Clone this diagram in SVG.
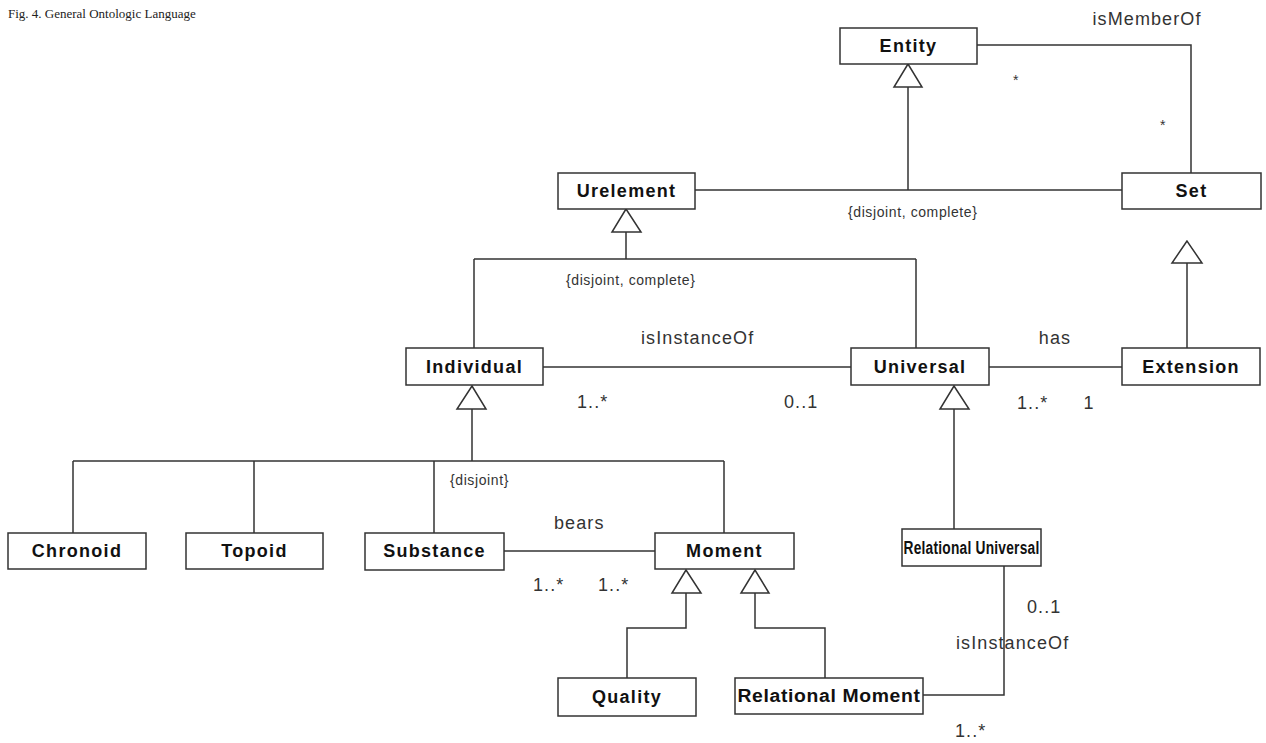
<svg xmlns="http://www.w3.org/2000/svg" width="1266" height="743" viewBox="0 0 1266 743">
<style>
.box{fill:#fff;stroke:#333;stroke-width:1.5}
.nl{font-family:"Liberation Sans",Arial,sans-serif;font-weight:bold;font-size:18px;letter-spacing:1.3px;fill:#111;text-anchor:middle}
.ln{fill:none;stroke:#333;stroke-width:1.5}
.tri{fill:#fff;stroke:#333;stroke-width:1.5;stroke-linejoin:miter}
.lbl{font-family:"Liberation Sans",Arial,sans-serif;font-size:18px;letter-spacing:1.1px;fill:#333}
.sm{font-family:"Liberation Sans",Arial,sans-serif;font-size:14px;letter-spacing:0.6px;fill:#333}
.cap{font-family:"Liberation Serif","Times New Roman",serif;font-size:13px;fill:#222}
</style>
<rect width="1266" height="743" fill="#fff"/>
<text class="cap" x="8" y="18">Fig. 4. General Ontologic Language</text>
<g id="connectors">
<path class="ln" d="M908,87V190M695,190H1122"/>
<path class="ln" d="M977,45H1191V173"/>
<path class="ln" d="M626,232V259M474,259H916M474,259V348M916,259V348"/>
<path class="ln" d="M543,367H851"/>
<path class="ln" d="M989,367H1122"/>
<path class="ln" d="M1187,263V348"/>
<path class="ln" d="M472,409V461M73,461H724M73,461V533M254,461V533M434,461V533M724,461V533"/>
<path class="ln" d="M954,409V529"/>
<path class="ln" d="M504,551H655"/>
<path class="ln" d="M686,593V628H627V678"/>
<path class="ln" d="M755,593V628H825V678"/>
<path class="ln" d="M923,695H1004V566"/>
<polygon class="tri" points="908,64 894,87 922,87"/>
<polygon class="tri" points="626,209 612,232 641,232"/>
<polygon class="tri" points="1187,241 1172,263 1202,263"/>
<polygon class="tri" points="472,386 457,409 486,409"/>
<polygon class="tri" points="954,386 940,409 969,409"/>
<polygon class="tri" points="686,570 672,593 701,593"/>
<polygon class="tri" points="755,570 741,593 769,593"/>
<text class="lbl" x="1147" y="25" text-anchor="middle">isMemberOf</text>
<text class="sm" x="1016" y="85" text-anchor="middle">*</text>
<text class="sm" x="1163" y="130" text-anchor="middle">*</text>
<text class="sm" x="848" y="217">{disjoint, complete}</text>
<text class="sm" x="566" y="285">{disjoint, complete}</text>
<text class="lbl" x="641" y="344">isInstanceOf</text>
<text class="lbl" x="1055" y="344" text-anchor="middle">has</text>
<text class="lbl" x="577" y="408">1..*</text>
<text class="lbl" x="784" y="408">0..1</text>
<text class="lbl" x="1017" y="409">1..*</text>
<text class="lbl" x="1089" y="409" text-anchor="middle">1</text>
<text class="sm" x="450" y="485">{disjoint}</text>
<text class="lbl" x="554" y="529">bears</text>
<text class="lbl" x="533" y="591">1..*</text>
<text class="lbl" x="598" y="591">1..*</text>
<text class="lbl" x="1027" y="613">0..1</text>
<text class="lbl" x="956" y="649">isInstanceOf</text>
<text class="lbl" x="955" y="737">1..*</text>
</g>
<g id="entity"><rect class="box" x="840" y="28" width="137" height="36"/><text class="nl" x="908.5" y="52">Entity</text></g>
<g id="urelement"><rect class="box" x="558" y="173" width="137" height="36"/><text class="nl" x="626.5" y="197">Urelement</text></g>
<g id="set"><rect class="box" x="1122" y="173" width="139" height="36"/><text class="nl" x="1191.5" y="197">Set</text></g>
<g id="individual"><rect class="box" x="406" y="348" width="137" height="37"/><text class="nl" x="474.5" y="373">Individual</text></g>
<g id="universal"><rect class="box" x="851" y="348" width="138" height="37"/><text class="nl" x="920" y="373">Universal</text></g>
<g id="extension"><rect class="box" x="1122" y="348" width="138" height="37"/><text class="nl" x="1191" y="373">Extension</text></g>
<g id="chronoid"><rect class="box" x="8" y="533" width="138" height="36"/><text class="nl" x="77" y="557">Chronoid</text></g>
<g id="topoid"><rect class="box" x="186" y="533" width="137" height="36"/><text class="nl" x="254.5" y="557">Topoid</text></g>
<g id="substance"><rect class="box" x="365" y="533" width="139" height="37"/><text class="nl" x="434.5" y="557">Substance</text></g>
<g id="moment"><rect class="box" x="655" y="533" width="139" height="36"/><text class="nl" x="724.5" y="557">Moment</text></g>
<g id="relational-universal"><rect class="box" x="902" y="529" width="139" height="37"/><text class="nl" x="971.5" y="554" style="letter-spacing:0.3px" textLength="136" lengthAdjust="spacingAndGlyphs">Relational Universal</text></g>
<g id="quality"><rect class="box" x="558" y="678" width="138" height="38"/><text class="nl" x="627" y="703">Quality</text></g>
<g id="relational-moment"><rect class="box" x="735" y="678" width="188" height="36"/><text class="nl" x="829" y="702" style="letter-spacing:0.6px" textLength="183" lengthAdjust="spacingAndGlyphs">Relational Moment</text></g>
</svg>
